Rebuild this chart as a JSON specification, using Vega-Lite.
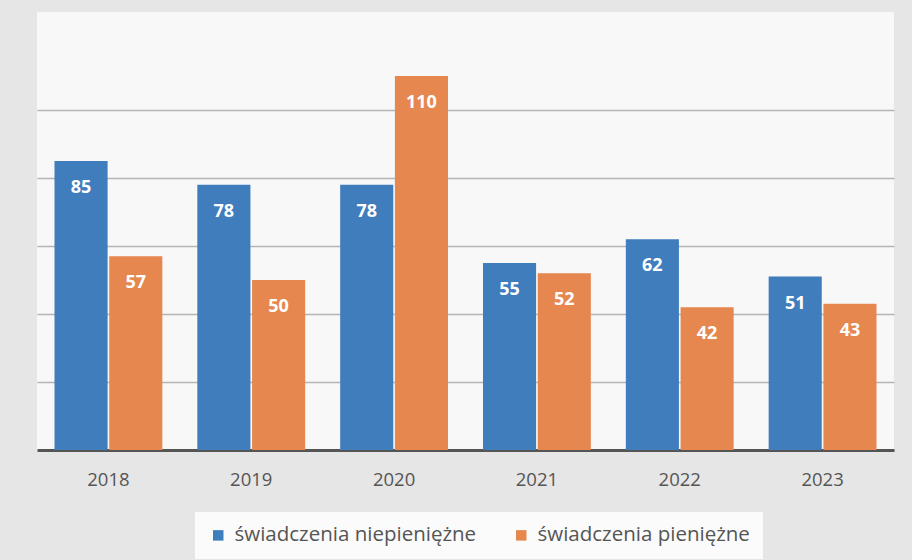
{
  "$schema": "https://vega.github.io/schema/vega-lite/v6.json",
  "width": 857,
  "height": 438,
  "padding": {"left": 37, "top": 12, "right": 18, "bottom": 110},
  "autosize": {"type": "none"},
  "background": "#e6e6e6",
  "view": {"fill": "#f8f8f8", "stroke": null},
  "data": {
    "values": [
      {"rok": "2018", "rodzaj": "świadczenia niepieniężne", "wartosc": 85},
      {"rok": "2018", "rodzaj": "świadczenia pieniężne", "wartosc": 57},
      {"rok": "2019", "rodzaj": "świadczenia niepieniężne", "wartosc": 78},
      {"rok": "2019", "rodzaj": "świadczenia pieniężne", "wartosc": 50},
      {"rok": "2020", "rodzaj": "świadczenia niepieniężne", "wartosc": 78},
      {"rok": "2020", "rodzaj": "świadczenia pieniężne", "wartosc": 110},
      {"rok": "2021", "rodzaj": "świadczenia niepieniężne", "wartosc": 55},
      {"rok": "2021", "rodzaj": "świadczenia pieniężne", "wartosc": 52},
      {"rok": "2022", "rodzaj": "świadczenia niepieniężne", "wartosc": 62},
      {"rok": "2022", "rodzaj": "świadczenia pieniężne", "wartosc": 42},
      {"rok": "2023", "rodzaj": "świadczenia niepieniężne", "wartosc": 51},
      {"rok": "2023", "rodzaj": "świadczenia pieniężne", "wartosc": 43}
    ]
  },
  "encoding": {
    "x": {
      "field": "rok", "type": "nominal",
      "scale": {"paddingInner": 0.245, "paddingOuter": 0.1225},
      "axis": {
        "title": null, "labelAngle": 0, "labelFont": "Open Sans", "labelFontSize": 18.5,
        "labelColor": "#555555", "labelPadding": 20, "ticks": false,
        "domainColor": "#555555", "domainWidth": 3
      }
    },
    "xOffset": {"field": "rodzaj", "type": "nominal", "scale": {"paddingInner": 0.03}},
    "y": {
      "field": "wartosc", "type": "quantitative",
      "scale": {"domain": [0, 128.8], "nice": false},
      "axis": {
        "title": null, "labels": false, "ticks": false, "domain": false,
        "values": [20, 40, 60, 80, 100], "gridColor": "#b5b5b5", "gridWidth": 1.5
      }
    }
  },
  "layer": [
    {
      "mark": {"type": "bar"},
      "encoding": {
        "color": {
          "field": "rodzaj", "type": "nominal",
          "scale": {"domain": ["świadczenia niepieniężne", "świadczenia pieniężne"], "range": ["#3f7dbd", "#e6874f"]},
          "legend": {
            "title": null, "orient": "none", "direction": "horizontal",
            "legendX": 158, "legendY": 500,
            "labelFont": "Open Sans", "labelFontSize": 20.5, "labelColor": "#555555",
            "symbolType": "square", "symbolSize": 110, "symbolStrokeWidth": 0, "symbolOffset": 0,
            "labelOffset": 6,
            "columnPadding": 34, "fillColor": "#fbfbfb", "padding": 13,
            "labelLimit": 400
          }
        }
      }
    },
    {
      "mark": {"type": "text", "baseline": "top", "dy": 18, "color": "white", "font": "Open Sans", "fontWeight": "bold", "fontSize": 18},
      "encoding": {"text": {"field": "wartosc", "type": "quantitative"}}
    }
  ]
}
